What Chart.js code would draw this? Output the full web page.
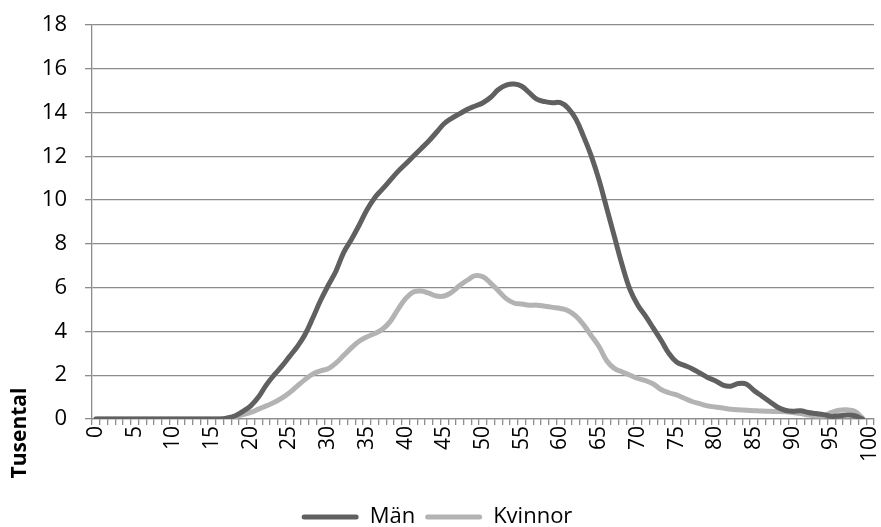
<!DOCTYPE html>
<html>
<head>
<meta charset="utf-8">
<script src="https://cdn.jsdelivr.net/npm/chart.js@4"></script>
<style>
html,body{margin:0;padding:0;background:#fff;}
#wrap{width:881px;height:527px;position:relative;}
</style>
</head>
<body>
<div id="wrap"><canvas id="c"></canvas></div>
<script>
const ages = ["0","1","2","3","4","5","6","7","8","9","10","11","12","13","14","15","16","17","18","19","20","21","22","23","24","25","26","27","28","29","30","31","32","33","34","35","36","37","38","39","40","41","42","43","44","45","46","47","48","49","50","51","52","53","54","55","56","57","58","59","60","61","62","63","64","65","66","67","68","69","70","71","72","73","74","75","76","77","78","79","80","81","82","83","84","85","86","87","88","89","90","91","92","93","94","95","96","97","98","99","100"];

const man = [0,0,0,0,0,0,0,0,0,0,0,0,0,0,0,0,0,0.05,0.15,0.35,
  0.6,1.0,1.55,2.0,2.4,2.85,3.3,3.85,4.6,5.4,
  6.1,6.75,7.6,8.2,8.85,9.55,10.1,10.5,10.9,11.3,
  11.65,12.0,12.35,12.7,13.1,13.5,13.75,13.95,14.15,14.3,
  14.45,14.7,15.05,15.25,15.3,15.2,14.9,14.6,14.5,14.45,
  14.45,14.2,13.7,12.9,12.0,10.9,9.6,8.3,7.0,5.9,
  5.2,4.7,4.15,3.6,3.0,2.6,2.45,2.3,2.1,1.9,
  1.75,1.55,1.5,1.62,1.6,1.3,1.05,0.8,0.55,0.4,
  0.35,0.38,0.3,0.25,0.2,0.12,0.15,0.18,0.15,0.0];

const kvinnor = [0,0,0,0,0,0,0,0,0,0,0,0,0,0,0,0,0,0,0.1,0.2,
  0.3,0.45,0.6,0.75,0.95,1.2,1.5,1.8,2.05,2.2,
  2.3,2.55,2.9,3.25,3.55,3.75,3.9,4.1,4.45,5.0,
  5.5,5.8,5.85,5.75,5.62,5.62,5.8,6.1,6.35,6.55,
  6.5,6.2,5.85,5.5,5.3,5.25,5.2,5.2,5.15,5.1,
  5.05,4.95,4.7,4.3,3.8,3.3,2.65,2.3,2.15,2.0,
  1.85,1.75,1.6,1.35,1.2,1.1,0.95,0.8,0.7,0.6,
  0.55,0.5,0.45,0.42,0.4,0.38,0.36,0.35,0.34,0.33,
  0.3,0.25,0.18,0.14,0.15,0.3,0.4,0.42,0.35,0.05];

const seriesNames = ["Män", "Kvinnor"];
const yTitle = "Tusental";

const FONT = "'Open Sans', 'Liberation Sans', sans-serif";
const GRID = "#8c8c8c";

const yTitlePlugin = {
  id: 'yTitle',
  afterDraw(chart) {
    const ctx = chart.ctx;
    const a = chart.chartArea;
    ctx.save();
    ctx.font = "bold 21px " + FONT;
    ctx.fillStyle = "#000";
    ctx.textAlign = "center";
    ctx.textBaseline = "middle";
    ctx.translate(20, a.bottom + 14);
    ctx.rotate(-Math.PI / 2);
    ctx.fillText(yTitle, 0, 0);
    ctx.restore();
  }
};

new Chart(document.getElementById('c'), {
  type: 'line',
  data: {
    labels: ages,
    datasets: [
      { label: seriesNames[0], data: man, borderColor: '#606060', backgroundColor: '#606060',
        borderWidth: 5, pointRadius: 0, tension: 0.4, borderCapStyle: 'round', borderJoinStyle: 'round' },
      { label: seriesNames[1], data: kvinnor, borderColor: '#b3b3b3', backgroundColor: '#b3b3b3',
        borderWidth: 5, pointRadius: 0, tension: 0.4, borderCapStyle: 'round', borderJoinStyle: 'round' }
    ]
  },
  options: {
    responsive: true,
    maintainAspectRatio: false,
    animation: false,
    layout: { padding: { top: 25, right: 7, left: 0, bottom: -11 } },
    plugins: {
      tooltip: { enabled: false },
      legend: {
        position: 'bottom',
        labels: {
          boxWidth: 57, boxHeight: 5, padding: 10,
          color: '#000',
          font: { family: FONT, size: 22 },
          generateLabels(chart) {
            return Chart.defaults.plugins.legend.labels.generateLabels(chart).map(l => Object.assign(l, {
              lineWidth: 0, fillStyle: l.strokeStyle, borderRadius: 2.5
            }));
          }
        }
      }
    },
    scales: {
      x: {
        offset: true,
        grid: { display: true, drawOnChartArea: false, drawTicks: true, tickLength: 6, offset: true, color: GRID, lineWidth: 1.3 },
        border: { display: true, color: GRID, width: 1.3 },
        ticks: {
          autoSkip: false, maxRotation: 90, minRotation: 90, color: '#000', padding: 1,
          font: { family: FONT, size: 21 },
          callback(v, i) { return i % 5 === 0 ? ages[i] : ''; }
        },
        afterFit(s) { s.height = 77; s.paddingLeft = 0; s.paddingRight = 0; }
      },
      y: {
        min: 0, max: 18,
        grid: { color: GRID, lineWidth: 1.3, tickLength: 7 },
        border: { display: true, color: GRID, width: 1.3 },
        ticks: { stepSize: 2, color: '#000', padding: 18, font: { family: FONT, size: 22 } },
        afterFit(s) { s.width = 92; s.paddingTop = 0; s.paddingBottom = 0; }
      }
    }
  },
  plugins: [yTitlePlugin]
});
</script>
</body>
</html>
